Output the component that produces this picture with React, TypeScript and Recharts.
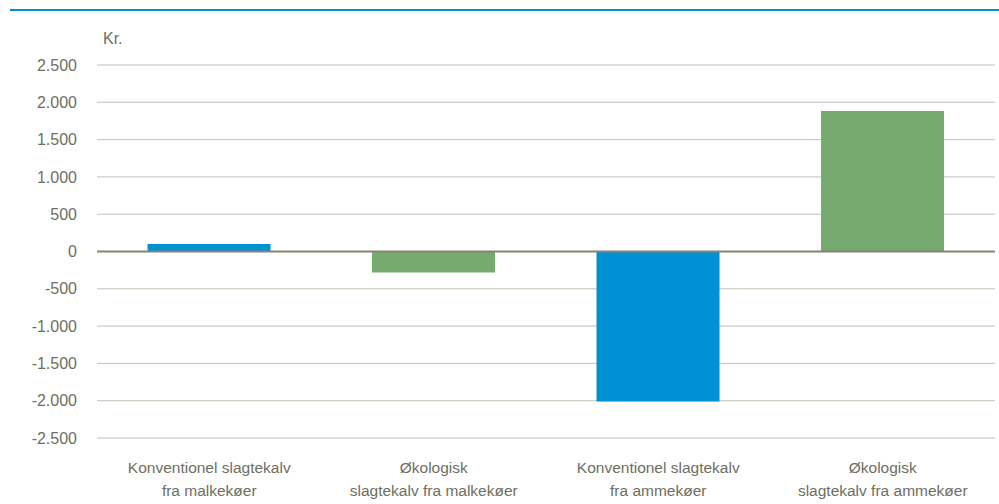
import { Bar, BarChart, CartesianGrid, Cell, ReferenceLine, XAxis, YAxis } from "recharts";

// Merpris pr. slagtekalv, kr. (søjlediagram med positive og negative værdier)

const CATEGORIES = [
  "Konventionel slagtekalv|fra malkekøer",
  "Økologisk|slagtekalv fra malkekøer",
  "Konventionel slagtekalv|fra ammekøer",
  "Økologisk|slagtekalv fra ammekøer",
];
const VALUES = [100, -280, -2010, 1885];
const BAR_COLORS = ["#0091d5", "#77aa6f", "#0091d5", "#77aa6f"];
const Y_TICKS = [-2500, -2000, -1500, -1000, -500, 0, 500, 1000, 1500, 2000, 2500];

const FONT = "'Liberation Sans Narrow', 'Arial Narrow', 'Liberation Sans', Arial, sans-serif";
const TEXT = "#6e6e61";

const data = CATEGORIES.map((c, i) => ({ name: c, value: VALUES[i] }));

function fmt(n: number): string {
  const s = Math.abs(n).toString().replace(/\B(?=(\d{3})+(?!\d))/g, ".");
  return n < 0 ? `-${s}` : s;
}

function CategoryTick({ x, y, payload }: { x?: number; y?: number; payload?: { value: string } }) {
  const lines = String(payload?.value ?? "").split("|");
  return (
    <text x={x} y={y} textAnchor="middle" fill={TEXT} fontSize={15.5} fontFamily={FONT}>
      {lines.map((l, i) => (
        <tspan key={i} x={x} dy={i === 0 ? 33 : 23}>
          {l}
        </tspan>
      ))}
    </text>
  );
}

export default function App() {
  return (
    <div style={{ position: "absolute", left: 0, top: 0, width: 999, height: 504, background: "#fff", fontFamily: FONT }}>
      <div style={{ position: "absolute", left: 10, top: 9, width: 989, height: 2, background: "#0091d5" }} />
      <div style={{ position: "absolute", left: 103, top: 30, fontSize: 16, color: TEXT }}>Kr.</div>
      <BarChart
        width={999}
        height={504}
        data={data}
        margin={{ top: 65, right: 4, left: 0, bottom: 0 }}
        barCategoryGap="22.5%"
      >
        <CartesianGrid horizontal vertical={false} stroke="#c2c2b6" strokeWidth={1} />
        <XAxis
          dataKey="name"
          axisLine={false}
          tickLine={false}
          tickSize={0}
          tick={<CategoryTick />}
          interval={0}
          height={66}
        />
        <YAxis
          domain={[-2500, 2500]}
          ticks={Y_TICKS}
          tickFormatter={fmt}
          axisLine={false}
          tickLine={false}
          tickSize={0}
          tickMargin={20}
          width={97}
          tick={{ fontSize: 16, fill: TEXT, fontFamily: FONT }}
        />
        <Bar dataKey="value" isAnimationActive={false}>
          {data.map((_, i) => (
            <Cell key={i} fill={BAR_COLORS[i]} />
          ))}
        </Bar>
        <ReferenceLine y={0} stroke="#848476" strokeWidth={2} />
      </BarChart>
    </div>
  );
}
